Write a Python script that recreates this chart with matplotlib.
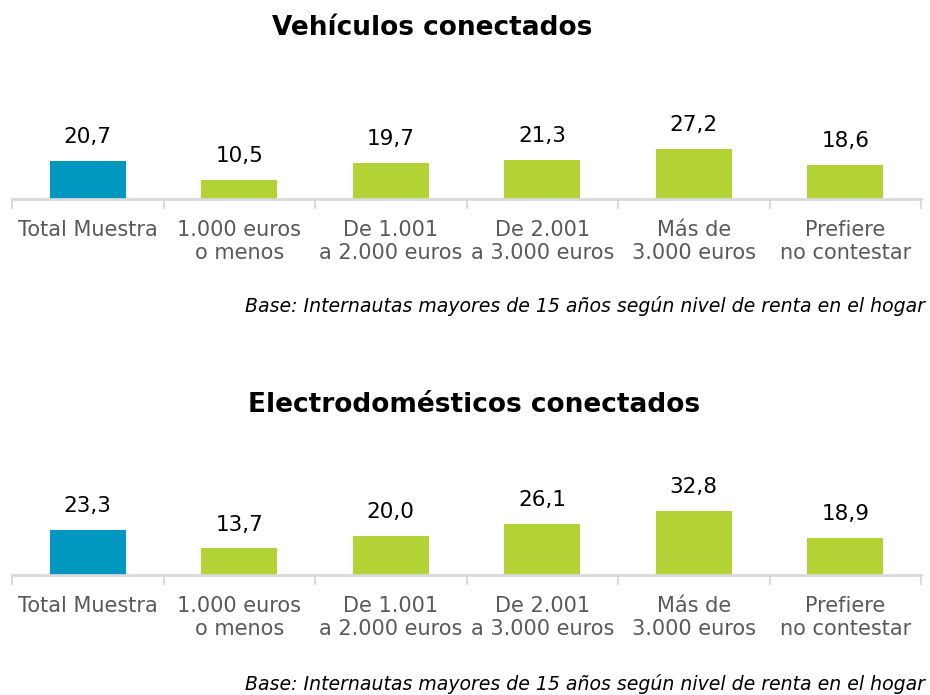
import matplotlib.pyplot as plt
import numpy as np

# --- Data ---------------------------------------------------------------------

categories = ["Total Muestra", "1.000 euros\no menos", "De 1.001\na 2.000 euros",
              "De 2.001\na 3.000 euros", "Más de\n3.000 euros", "Prefiere\nno contestar"]
vehiculos = [20.7, 10.5, 19.7, 21.3, 27.2, 18.6]
electro = [23.3, 13.7, 20.0, 26.1, 32.8, 18.9]
titles = ["Vehículos conectados", "Electrodomésticos conectados"]
base_note = "Base: Internautas mayores de 15 años según nivel de renta en el hogar"

BLUE = "#0097C1"
GREEN = "#B3D236"
GRID = "#D9D9D9"

plt.rcParams["font.family"] = ["DejaVu Sans"]

fig = plt.figure(figsize=(9.3, 6.95), dpi=100)


def draw_panel(rect, values, ymax):
    ax = fig.add_axes(rect)
    x = np.arange(len(values))
    colors = [BLUE] + [GREEN] * (len(values) - 1)
    bars = ax.bar(x, values, width=0.5, color=colors)
    for b, v in zip(bars, values):
        ax.annotate(f"{v:.1f}".replace(".", ","), (b.get_x() + b.get_width() / 2, v),
                    xytext=(0, 10), textcoords="offset points",
                    ha="center", va="bottom", fontsize=15.5, color="black")
    ax.set_xlim(-0.5, len(values) - 0.5)
    ax.set_ylim(0, ymax)
    ax.set_xticks(x)
    ax.set_xticklabels(categories, fontsize=15, color="#595959", linespacing=1.2)
    ax.set_xticks(np.arange(-0.5, len(values)), minor=True)
    ax.tick_params(axis="x", which="major", length=0, pad=15)
    ax.tick_params(axis="x", which="minor", length=7, width=1.5, color=GRID)
    ax.set_yticks([])
    for s in ["top", "left", "right"]:
        ax.spines[s].set_visible(False)
    ax.spines["bottom"].set_color(GRID)
    ax.spines["bottom"].set_linewidth(2)
    return ax


draw_panel([12 / 930, 1 - 199 / 695, 909 / 930, 99 / 695], vehiculos, 54)
draw_panel([12 / 930, 1 - 575 / 695, 909 / 930, 99 / 695], electro, 51)

fig.text(432 / 930, 1 - 28 / 695, titles[0], ha="center", va="center",
         fontsize=19, fontweight="bold")
fig.text(474 / 930, 1 - 405 / 695, titles[1], ha="center", va="center",
         fontsize=19, fontweight="bold")
fig.text(925 / 930, 1 - 306 / 695, base_note, ha="right", va="center",
         fontsize=13.6, style="italic")
fig.text(925 / 930, 1 - 684 / 695, base_note, ha="right", va="center",
         fontsize=13.6, style="italic")

plt.savefig("out.png", dpi=100)
plt.close()
